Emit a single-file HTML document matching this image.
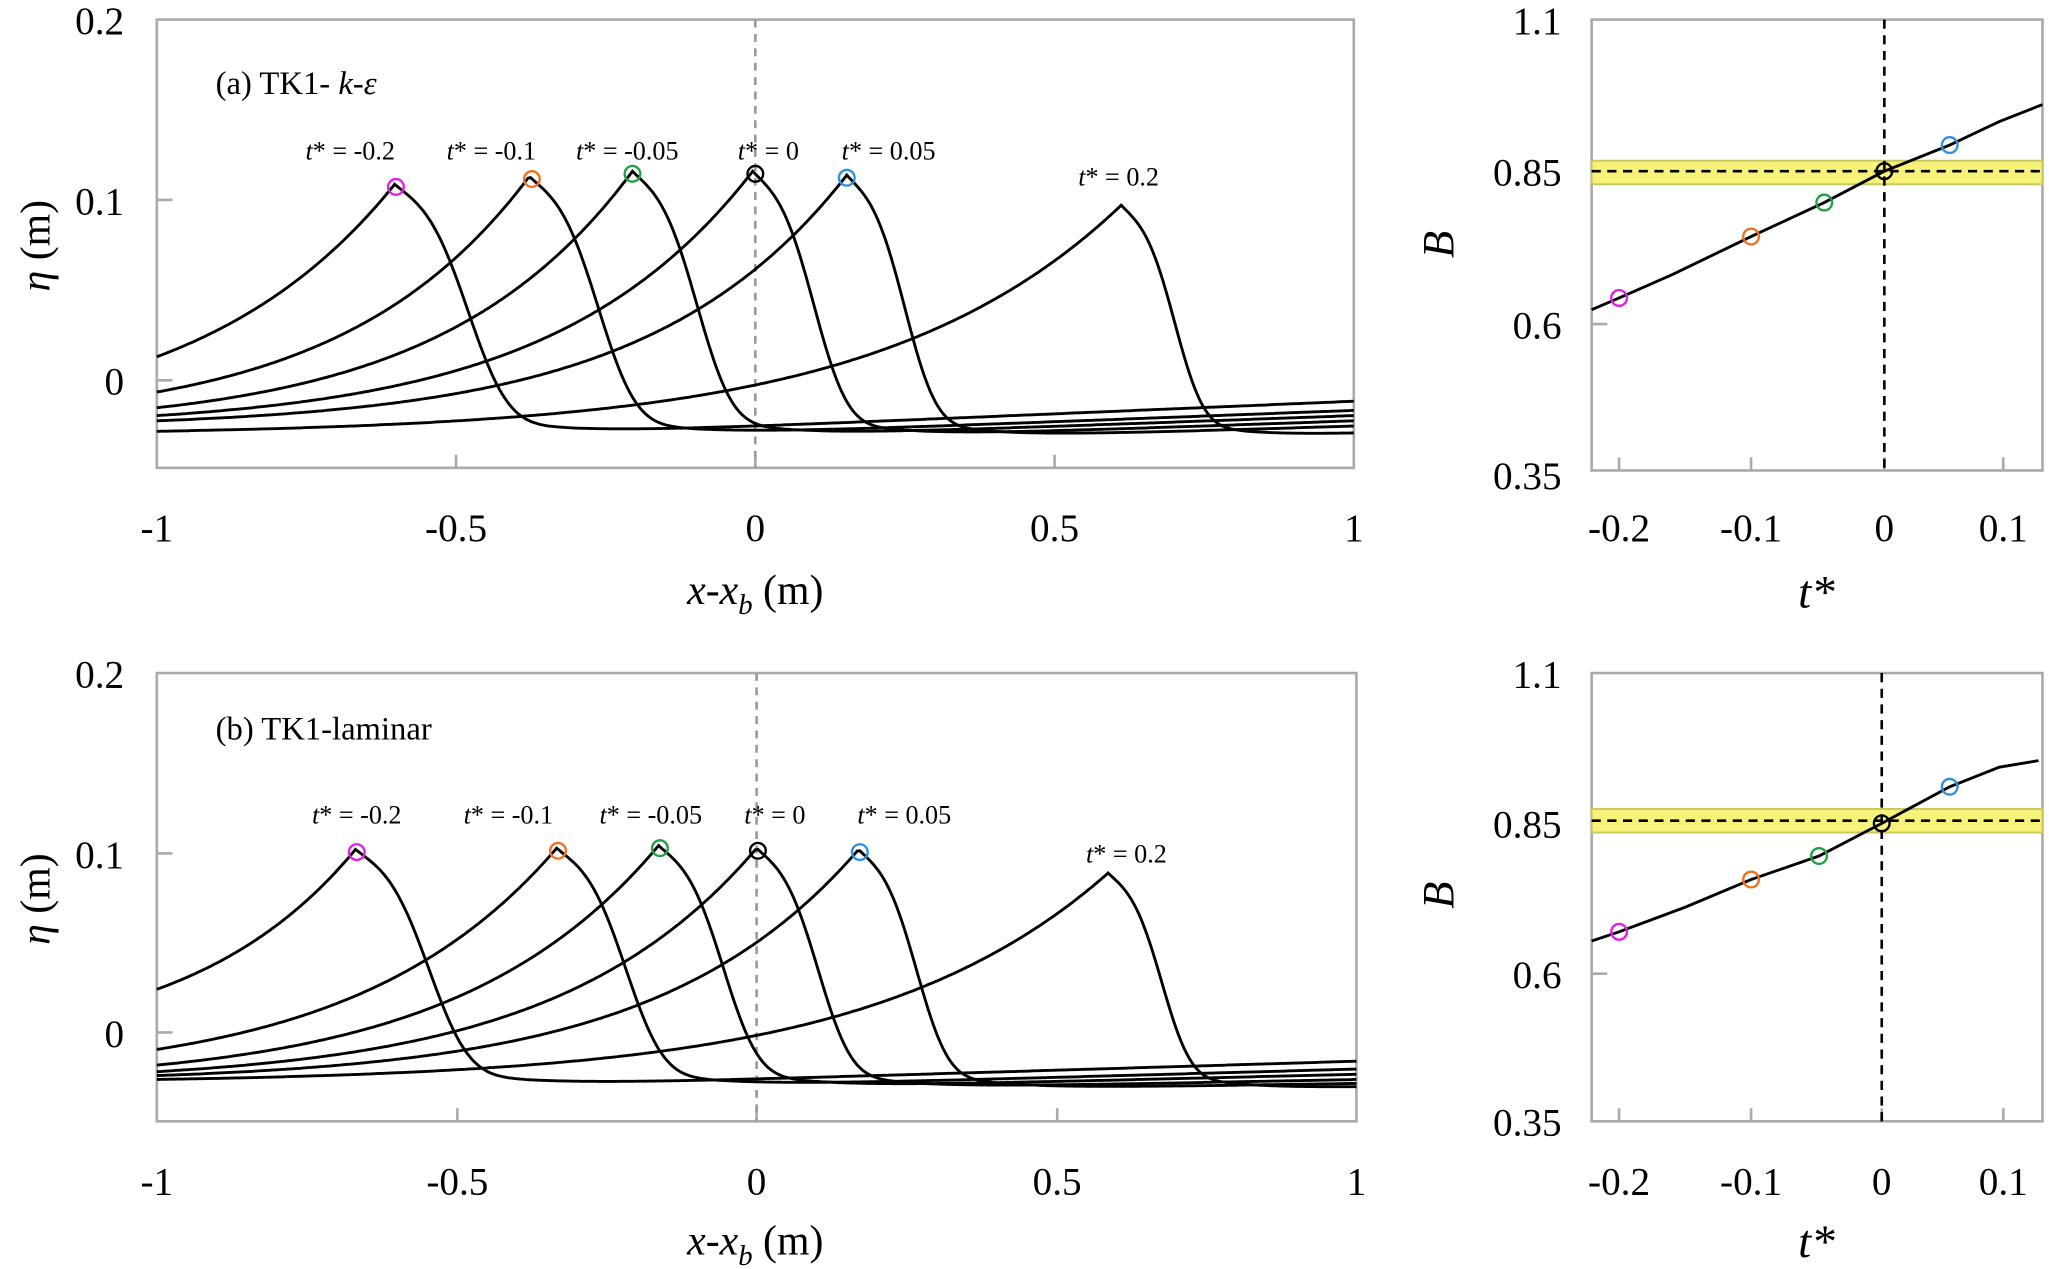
<!DOCTYPE html>
<html><head><meta charset="utf-8"><style>
html,body{margin:0;padding:0;background:#fff;overflow:hidden;}
svg{display:block;font-family:"Liberation Serif",serif;}
</style></head><body>
<svg id="s" width="2049" height="1269" viewBox="0 0 1568 971" preserveAspectRatio="none" xmlns="http://www.w3.org/2000/svg">
<g fill="none" stroke="#aaa" stroke-width="2">
<rect x="120" y="15" width="916" height="343"/>
<rect x="120" y="515" width="918" height="343"/>
<rect x="1218" y="15" width="345" height="345"/>
<rect x="1218" y="515" width="345" height="343"/>
<path d="M120 153h12M120 291h12M349 358v-10M578 358v-10M807 358v-10M120 653h12M120 790h12M350 858v-10M579 858v-10M809 858v-10"/>
<path d="M1218 131h12M1218 248h12M1239 360v-10M1340 360v-10M1442 360v-10M1533 360v-10M1218 630h12M1218 745h12M1239 858v-10M1340 858v-10M1440 858v-10M1533 858v-10"/>
</g>
<path d="M578 15V358M579 515V858" stroke="#999" stroke-width="2" stroke-dasharray="6,5"/>
<rect x="1218" y="123" width="345" height="18" fill="#f7f37a" stroke="#c8c860" stroke-width="1.5"/>
<rect x="1218" y="619" width="345" height="18" fill="#f7f37a" stroke="#c8c860" stroke-width="1.5"/>
<path d="M1218 131H1563M1442 15V360M1218 628H1563M1440 515V858" stroke="#000" stroke-width="2" stroke-dasharray="7,5"/>
<path d="M1218 237L1239 228L1280 210L1340 181L1396 155L1442 131L1492 111L1530 93L1563 80" fill="none" stroke="#000" stroke-width="2.2"/>
<path d="M1218 720L1239 713L1290 694L1340 673L1392 655L1440 630L1492 602L1530 587L1560 582" fill="none" stroke="#000" stroke-width="2.2"/>
<g id="curves" fill="none" stroke="#000" stroke-width="2.2"></g>
<g fill="none" stroke-width="1.8">
<circle cx="303" cy="143" r="6" stroke="#e020e0"/><circle cx="407" cy="137" r="6" stroke="#f07020"/><circle cx="484" cy="133" r="6" stroke="#20a040"/><circle cx="578" cy="133" r="6" stroke="#000"/><circle cx="648" cy="136" r="6" stroke="#3090e0"/>
<circle cx="273" cy="652" r="6" stroke="#e020e0"/><circle cx="427" cy="651" r="6" stroke="#f07020"/><circle cx="505" cy="649" r="6" stroke="#20a040"/><circle cx="580" cy="651" r="6" stroke="#000"/><circle cx="658" cy="652" r="6" stroke="#3090e0"/>
<circle cx="1239" cy="228" r="6" stroke="#e020e0"/><circle cx="1340" cy="181" r="6" stroke="#f07020"/><circle cx="1396" cy="155" r="6" stroke="#20a040"/><circle cx="1442" cy="131" r="6" stroke="#000"/><circle cx="1492" cy="111" r="6" stroke="#3090e0"/>
<circle cx="1239" cy="713" r="6" stroke="#e020e0"/><circle cx="1340" cy="673" r="6" stroke="#f07020"/><circle cx="1392" cy="655" r="6" stroke="#20a040"/><circle cx="1440" cy="630" r="6" stroke="#000"/><circle cx="1492" cy="602" r="6" stroke="#3090e0"/>
</g>
<g font-size="30" fill="#000">
<g text-anchor="end"><text x="95" y="26">0.2</text><text x="95" y="164">0.1</text><text x="95" y="302">0</text>
<text x="95" y="526">0.2</text><text x="95" y="664">0.1</text><text x="95" y="801">0</text>
<text x="1195" y="26">1.1</text><text x="1195" y="142">0.85</text><text x="1195" y="259">0.6</text><text x="1195" y="374">0.35</text>
<text x="1195" y="526">1.1</text><text x="1195" y="641">0.85</text><text x="1195" y="756">0.6</text><text x="1195" y="869">0.35</text></g>
<g text-anchor="middle"><text x="120" y="414">-1</text><text x="349" y="414">-0.5</text><text x="578" y="414">0</text><text x="807" y="414">0.5</text><text x="1036" y="414">1</text>
<text x="120" y="914">-1</text><text x="350" y="914">-0.5</text><text x="579" y="914">0</text><text x="809" y="914">0.5</text><text x="1038" y="914">1</text>
<text x="1239" y="414">-0.2</text><text x="1340" y="414">-0.1</text><text x="1442" y="414">0</text><text x="1533" y="414">0.1</text>
<text x="1239" y="914">-0.2</text><text x="1340" y="914">-0.1</text><text x="1440" y="914">0</text><text x="1533" y="914">0.1</text>
<text x="578" y="462" font-size="32"><tspan font-style="italic">x</tspan>-<tspan font-style="italic">x</tspan><tspan font-style="italic" font-size="22" dy="8">b</tspan><tspan dy="-8"> (m)</tspan></text>
<text x="578" y="960" font-size="32"><tspan font-style="italic">x</tspan>-<tspan font-style="italic">x</tspan><tspan font-style="italic" font-size="22" dy="8">b</tspan><tspan dy="-8"> (m)</tspan></text>
<text x="1390" y="465" font-size="36" font-style="italic">t*</text><text x="1390" y="962" font-size="36" font-style="italic">t*</text>
<text transform="translate(38,188) rotate(-90)" font-size="32"><tspan font-style="italic">η</tspan> (m)</text>
<text transform="translate(38,688) rotate(-90)" font-size="32"><tspan font-style="italic">η</tspan> (m)</text>
<text transform="translate(1112,187) rotate(-90)" font-size="34" font-style="italic">B</text>
<text transform="translate(1112,685) rotate(-90)" font-size="34" font-style="italic">B</text>
</g>
<text x="165" y="72" font-size="25">(a) TK1- <tspan font-style="italic">k</tspan>-<tspan font-style="italic">ε</tspan></text>
<text x="165" y="566" font-size="25">(b) TK1-laminar</text>
<g font-size="20" text-anchor="middle">
<text x="268" y="122"><tspan font-style="italic">t</tspan>* = -0.2</text><text x="376" y="122"><tspan font-style="italic">t</tspan>* = -0.1</text><text x="480" y="122"><tspan font-style="italic">t</tspan>* = -0.05</text><text x="588" y="122"><tspan font-style="italic">t</tspan>* = 0</text><text x="680" y="122"><tspan font-style="italic">t</tspan>* = 0.05</text><text x="856" y="142"><tspan font-style="italic">t</tspan>* = 0.2</text>
<text x="273" y="630"><tspan font-style="italic">t</tspan>* = -0.2</text><text x="389" y="630"><tspan font-style="italic">t</tspan>* = -0.1</text><text x="498" y="630"><tspan font-style="italic">t</tspan>* = -0.05</text><text x="593" y="630"><tspan font-style="italic">t</tspan>* = 0</text><text x="692" y="630"><tspan font-style="italic">t</tspan>* = 0.05</text><text x="862" y="660"><tspan font-style="italic">t</tspan>* = 0.2</text>
</g>
</svg>
<script>
(function(){
var g=document.getElementById('curves');
function curve(x0,x1,p,pk,L,T0,R,w,k){
 var d='';
 for(var x=x0;x<=x1;x+=2){
  var y,dd=x-p;
  if(x<=p){var s=(x-x0)/(p-x0);var r=(Math.exp(k*s)-1)/(Math.exp(k)-1);y=L-(L-pk)*r;if(dd>-25)y=Math.max(y,pk+0.03*dd*dd);}
  else{var base=T0+(R-T0)*(x-p)/(x1-p);var f=0.75*Math.exp(-Math.pow(dd/w,3))+0.25*Math.exp(-dd/(w*0.9));y=base-(base-pk)*f;if(dd<25)y=Math.max(y,pk+0.02*dd*dd);}
  d+=(d?'L':'M')+x.toFixed(1)+' '+y.toFixed(1);
 }
 var e=document.createElementNS('http://www.w3.org/2000/svg','path');e.setAttribute('d',d);g.appendChild(e);
}
curve(120,1036,302,141,273,338,307,66,1.2);
curve(120,1036,405,135,300,338,314,62,2);
curve(120,1036,484,131,312,338,318,58,2.5);
curve(120,1036,576,131,318,338,322,55,3);
curve(120,1036,648,134,322,338,326,52,3.5);
curve(120,1036,858,157,330,338,332,48,4);
curve(120,1038,272,650,757,835,812,66,1.2);
curve(120,1038,426,649,803,835,818,62,2);
curve(120,1038,504,647,815,835,822,58,2.5);
curve(120,1038,579,649,820,835,826,55,3);
curve(120,1038,657,650,823,835,829,52,3.5);
curve(120,1038,848,668,826,835,832,48,4);
})();
</script>
</body></html>
